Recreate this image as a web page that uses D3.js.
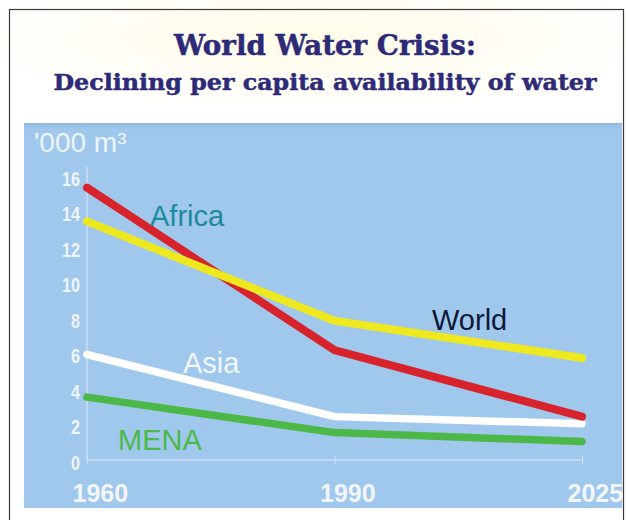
<!DOCTYPE html>
<html>
<head>
<meta charset="utf-8">
<script src="https://cdn.jsdelivr.net/npm/d3@7"></script>
<style>
  html, body { margin: 0; padding: 0; background: #ffffff; }
  svg { display: block; }
</style>
</head>
<body>
<svg id="chart" width="626" height="520"></svg>
<script>
// Per capita water availability, thousand m³ per person per year
const years = ["1960", "1990", "2025"];
const africa = [15.4, 6.25, 2.5];
const world = [13.5, 7.9, 5.8];
const asia = [6.0, 2.5, 2.1];
const mena = [3.6, 1.6, 1.1];
const yTicks = [0, 2, 4, 6, 8, 10, 12, 14, 16];
const titleLines = ["World Water Crisis:", "Declining per capita availability of water"];
const unitLabel = "'000 m³";

const series = [
  { name: "MENA", values: mena, color: "#4cb848", width: 7.5, label: { x: 118, y: 450 }, text: "#4cb848" },
  { name: "Asia", values: asia, color: "#ffffff", width: 7.5, label: { x: 183, y: 373 }, text: "#f2f6fb" },
  { name: "Africa", values: africa, color: "#d8232c", width: 8, label: { x: 150, y: 226 }, text: "#1c8a9c" },
  { name: "World", values: world, color: "#eee81e", width: 8, label: { x: 432, y: 330 }, text: "#0e1838" }
];

const svg = d3.select("#chart");

// page background with a faint warm glow behind the heading
const defs = svg.append("defs");
const glow = defs.append("radialGradient").attr("id", "glow")
  .attr("cx", "50%").attr("cy", "30%").attr("r", "60%");
glow.append("stop").attr("offset", "0%").attr("stop-color", "#fffbe8");
glow.append("stop").attr("offset", "100%").attr("stop-color", "#ffffff");
svg.append("rect").attr("x", 0).attr("y", 0).attr("width", 626).attr("height", 125)
  .attr("fill", "url(#glow)");

// outer frame
svg.append("rect").attr("x", 9.5).attr("y", 9.5).attr("width", 614).attr("height", 530)
  .attr("fill", "none").attr("stroke", "#3a3a3a").attr("stroke-width", 1.2);

// heading
const titleSizes = [27, 23];
const titleY = [55, 90];
const titleW = [302, 543];
titleLines.forEach((t, i) => {
  svg.append("text")
    .attr("x", 325).attr("y", titleY[i])
    .attr("text-anchor", "middle")
    .attr("font-family", "'DejaVu Serif', serif")
    .attr("font-weight", "bold")
    .attr("font-size", titleSizes[i])
    .attr("fill", "#2d2b78")
    .attr("stroke", "#2d2b78")
    .attr("stroke-width", 0.5)
    .attr("textLength", titleW[i])
    .attr("lengthAdjust", "spacingAndGlyphs")
    .text(t);
});

// chart panel
const panel = { x: 24, y: 123, w: 598, h: 385 };
const pg = defs.append("linearGradient").attr("id", "panelTop")
  .attr("x1", 0).attr("y1", 0).attr("x2", 0).attr("y2", 1);
pg.append("stop").attr("offset", "0").attr("stop-color", "#8eb8e2");
pg.append("stop").attr("offset", "1").attr("stop-color", "#a0c8ec");
svg.append("rect").attr("x", panel.x).attr("y", panel.y).attr("width", panel.w).attr("height", panel.h)
  .attr("fill", "#a0c8ec");
svg.append("rect").attr("x", panel.x).attr("y", panel.y).attr("width", panel.w).attr("height", 6)
  .attr("fill", "url(#panelTop)");

// scales
const x = d3.scalePoint().domain(years).range([87, 582]);
const y = d3.scaleLinear().domain([0, 16]).range([461, 177]);

// unit label
svg.append("text")
  .attr("x", 34).attr("y", 152)
  .attr("font-family", "'Liberation Sans', Arial, sans-serif")
  .attr("font-size", 28)
  .attr("fill", "#eef4fb")
  .text(unitLabel);

// y axis
const yAxis = svg.append("g")
  .attr("transform", "translate(87,0)")
  .call(d3.axisLeft(y).tickValues(yTicks).tickSize(0).tickPadding(7).tickFormat(d3.format("d")));
yAxis.select(".domain").attr("stroke", "#c9def4").attr("stroke-width", 1.5)
  .attr("d", `M0,${y(16) - 10}V${y(0)}`);
yAxis.selectAll("text")
  .attr("font-family", "'Liberation Sans', Arial, sans-serif")
  .attr("font-weight", "bold")
  .attr("font-size", 20)
  .attr("fill", "#eef4fb")
  .attr("textLength", function () { return this.textContent.length * 9; })
  .attr("lengthAdjust", "spacingAndGlyphs")
  .attr("dy", "0.4em");

// x axis
const xAxis = svg.append("g")
  .attr("transform", `translate(0,${y(0) - 1})`)
  .call(d3.axisBottom(x).tickSize(4).tickPadding(0));
xAxis.select(".domain").attr("stroke", "#c9def4").attr("stroke-width", 1.5)
  .attr("d", `M${x("1960")},0H${x("2025")}`);
xAxis.selectAll(".tick line").attr("stroke", "#c9def4").attr("y1", -4).attr("y2", 4);
xAxis.selectAll("text")
  .attr("font-family", "'Liberation Sans', Arial, sans-serif")
  .attr("font-weight", "bold")
  .attr("font-size", 25)
  .attr("fill", "#f2f6fb")
  .attr("text-anchor", "start")
  .attr("dx", -15)
  .attr("dy", 0)
  .attr("y", 42);

// series lines
const line = d3.line()
  .x((d, i) => x(years[i]))
  .y(d => y(d));

svg.append("g").selectAll("path")
  .data(series)
  .join("path")
  .attr("d", d => line(d.values))
  .attr("fill", "none")
  .attr("stroke", d => d.color)
  .attr("stroke-width", d => d.width)
  .attr("stroke-linecap", "round")
  .attr("stroke-linejoin", "round");

// series names
svg.append("g").selectAll("text")
  .data(series)
  .join("text")
  .attr("x", d => d.label.x)
  .attr("y", d => d.label.y)
  .attr("font-family", "'Liberation Sans', Arial, sans-serif")
  .attr("font-size", 29)
  .attr("fill", d => d.text)
  .text(d => d.name);
</script>
</body>
</html>
